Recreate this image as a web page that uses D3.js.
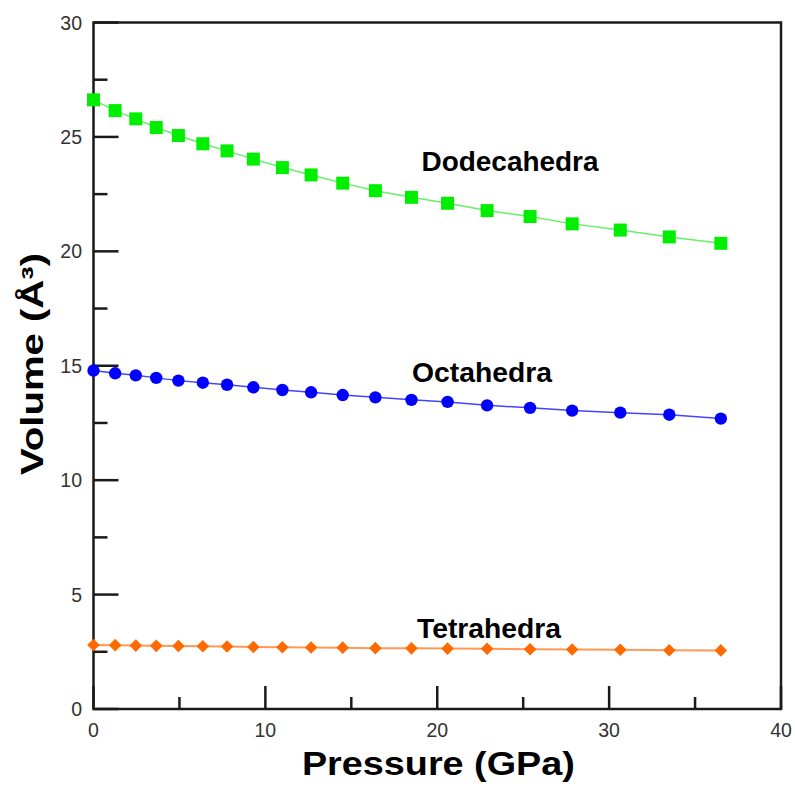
<!DOCTYPE html>
<html><head><meta charset="utf-8">
<script src="https://cdn.jsdelivr.net/npm/d3@7"></script>
<style>body{margin:0;background:#fff}</style>
</head><body>
<svg id="c" width="795" height="787"></svg>
<script>
const pressure = [0, 1.26, 2.46, 3.65, 4.94, 6.36, 7.77, 9.3, 10.99, 12.66, 14.5, 16.4, 18.5, 20.6, 22.9, 25.4, 27.85, 30.65, 33.5, 36.5];
const dodecahedra = [26.62, 26.15, 25.79, 25.41, 25.06, 24.70, 24.39, 24.03, 23.66, 23.34, 22.98, 22.65, 22.36, 22.10, 21.78, 21.52, 21.20, 20.93, 20.63, 20.35];
const octahedra = [14.79, 14.67, 14.58, 14.47, 14.35, 14.26, 14.17, 14.06, 13.94, 13.84, 13.72, 13.62, 13.51, 13.42, 13.27, 13.16, 13.04, 12.95, 12.86, 12.69];
const tetrahedra = [2.80, 2.79, 2.77, 2.76, 2.75, 2.74, 2.73, 2.71, 2.70, 2.69, 2.68, 2.66, 2.65, 2.64, 2.63, 2.61, 2.60, 2.59, 2.57, 2.56];
const xTicks = [0, 10, 20, 30, 40];
const yTicks = [0, 5, 10, 15, 20, 25, 30];
const seriesNames = ["Dodecahedra", "Octahedra", "Tetrahedra"];

const svg = d3.select("#c");
const L = 93.5, R = 781, T = 22.5, B = 709;
const x = d3.scaleLinear().domain([0, 40]).range([L, R]);
const y = d3.scaleLinear().domain([0, 30]).range([B, T]);

const axisColor = "#1a1a1a";
const g = svg.append("g");
yTicks.forEach(v => g.append("line").attr("x1", L).attr("x2", L + 25).attr("y1", y(v)).attr("y2", y(v)).attr("stroke", axisColor).attr("stroke-width", 2.5));
d3.range(2.5, 30, 5).forEach(v => g.append("line").attr("x1", L).attr("x2", L + 14).attr("y1", y(v)).attr("y2", y(v)).attr("stroke", axisColor).attr("stroke-width", 2.5));
xTicks.forEach(v => g.append("line").attr("x1", x(v)).attr("x2", x(v)).attr("y1", B).attr("y2", B - 23).attr("stroke", axisColor).attr("stroke-width", 2.5));
d3.range(5, 40, 10).forEach(v => g.append("line").attr("x1", x(v)).attr("x2", x(v)).attr("y1", B).attr("y2", B - 12).attr("stroke", axisColor).attr("stroke-width", 2.5));

g.append("rect").attr("x", L).attr("y", T).attr("width", R - L).attr("height", B - T)
  .attr("fill", "none").attr("stroke", axisColor).attr("stroke-width", 2.5);

const tf = "Arial, 'Liberation Sans', sans-serif";
yTicks.forEach(v => svg.append("text").attr("x", 82).attr("y", y(v)).attr("dy", "0.36em")
  .attr("text-anchor", "end").attr("font-family", tf).attr("font-size", 19.5).attr("fill", "#333").text(v));
xTicks.forEach(v => svg.append("text").attr("x", x(v)).attr("y", 737)
  .attr("text-anchor", "middle").attr("font-family", tf).attr("font-size", 19.5).attr("fill", "#333").text(v));

svg.append("text").attr("x", 438.4).attr("y", 775).attr("text-anchor", "middle")
  .attr("font-family", tf).attr("font-weight", "bold").attr("font-size", 32.5).attr("fill", "#000")
  .attr("textLength", 273).attr("lengthAdjust", "spacingAndGlyphs").text("Pressure (GPa)");
svg.append("text").attr("transform", "translate(43,364) rotate(-90)").attr("text-anchor", "middle")
  .attr("font-family", tf).attr("font-weight", "bold").attr("font-size", 31).attr("fill", "#000")
  .attr("textLength", 222).attr("lengthAdjust", "spacingAndGlyphs").text("Volume (Å³)");

const line = d3.line().x((d, i) => x(pressure[i])).y(d => y(d));

svg.append("path").datum(dodecahedra).attr("d", line).attr("fill", "none").attr("stroke", "#66f066").attr("stroke-width", 1.5);
svg.append("g").selectAll("rect").data(dodecahedra).join("rect")
  .attr("x", (d, i) => x(pressure[i]) - 6.5).attr("y", d => y(d) - 6.5)
  .attr("width", 13).attr("height", 13).attr("fill", "#00ee00");

svg.append("path").datum(octahedra).attr("d", line).attr("fill", "none").attr("stroke", "#4444ff").attr("stroke-width", 1.5);
svg.append("g").selectAll("circle").data(octahedra).join("circle")
  .attr("cx", (d, i) => x(pressure[i])).attr("cy", d => y(d)).attr("r", 6.2).attr("fill", "#0000ff");

svg.append("path").datum(tetrahedra).attr("d", line).attr("fill", "none").attr("stroke", "#ff9955").attr("stroke-width", 2);
svg.append("g").selectAll("path").data(tetrahedra).join("path")
  .attr("d", (d, i) => { const cx = x(pressure[i]), cy = y(d), s = 6.3; return `M${cx},${cy - s}L${cx + s},${cy}L${cx},${cy + s}L${cx - s},${cy}Z`; })
  .attr("fill", "#ff6a00");

const labels = [[510, 171, 177], [482, 382, 140], [489, 638, 144]];
seriesNames.forEach((n, i) => svg.append("text").attr("x", labels[i][0]).attr("y", labels[i][1])
  .attr("text-anchor", "middle").attr("font-family", tf).attr("font-weight", "bold").attr("font-size", 27).attr("fill", "#000")
  .attr("textLength", labels[i][2]).attr("lengthAdjust", "spacingAndGlyphs").text(n));
</script>
</body></html>
